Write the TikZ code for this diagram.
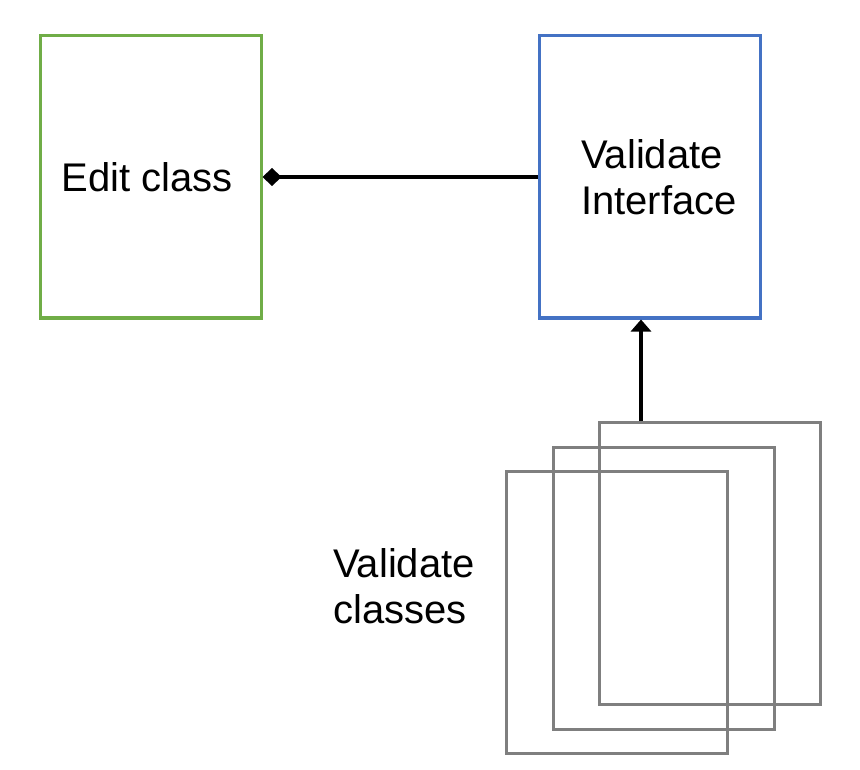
\documentclass[tikz,border=0pt]{standalone}
\usepackage{fontspec}
\setmainfont{Liberation Sans}
\usetikzlibrary{arrows.meta}
\definecolor{boxgreen}{HTML}{70AD47}
\definecolor{boxblue}{HTML}{4472C4}
\definecolor{boxgray}{HTML}{7F7F7F}
\begin{document}
\begin{tikzpicture}[x=1pt,y=-1pt,
  box/.style={draw, rectangle, line width=3pt, minimum width=221pt, minimum height=282pt, inner sep=0pt},
  label/.style={font=\fontsize{40}{46}\selectfont, align=left, inner sep=0pt},
  conn/.style={line width=3.5pt}]
\useasboundingbox (0,0) rectangle (860,770);
\node[box, draw=boxgreen] (edit) at (150.5,177) {};
\node[label] (edittext) at (147,177) {Edit class};
\node[box, draw=boxblue] (valint) at (650,177) {};
\node[label] (valinttext) at (659,177) {Validate\\Interface};
\node[box, draw=boxgray] (back) at (710,563) {};
\node[box, draw=boxgray] (middle) at (663.5,588) {};
\node[box, draw=boxgray] (front) at (616.5,612) {};
\node[label] (valcls) at (404,586) {Validate\\classes};
\coordinate (ax) at (641,0);
\draw[conn, {Diamond[length=19pt,width=18pt]}-] (edit.east) -- (valint.west);
\draw[conn, -{Triangle[length=12pt,width=20pt]}] (back.north -| ax) -- (valint.south -| ax);
\end{tikzpicture}
\end{document}
